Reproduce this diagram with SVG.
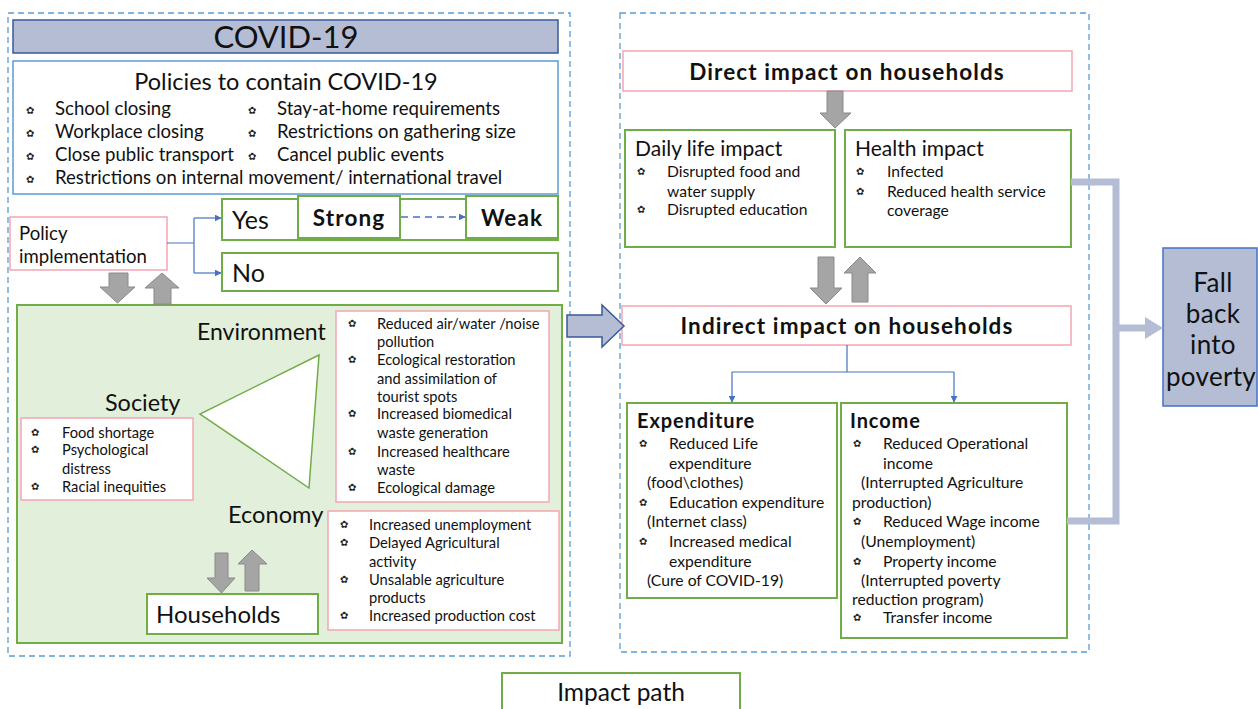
<svg xmlns="http://www.w3.org/2000/svg" width="1258" height="709" viewBox="0 0 1258 709">
<defs>
<style>
text{font-family:Lato,"Noto Sans",sans-serif;fill:#111;font-weight:400;}
.dash{fill:none;stroke:#5b9bd5;stroke-width:1.3;stroke-dasharray:6,4;}
.g{fill:#fff;stroke:#70ad47;stroke-width:2;}
.p{fill:#fff;stroke:#f4a7b3;stroke-width:1.5;}
.b{fill:#fff;stroke:#5b9bd5;stroke-width:1.5;}
.ga{fill:#a5a5a5;stroke:#8a8a8a;stroke-width:1;}
.bl{fill:none;stroke:#4472c4;stroke-width:1.2;}
text.bu{font-family:"DejaVu Sans",sans-serif;font-size:10px;font-weight:bold;fill:#222;letter-spacing:0;}
.t14{font-size:14.7px;}
.t15{font-size:15.7px;}
.t17{font-size:18.6px;}
text.h{font-size:22.5px;font-weight:bold;letter-spacing:1.1px;}
text.h2{font-size:20px;font-weight:bold;letter-spacing:0.9px;}
.big{font-size:23.4px;}
</style>
<marker id="ah" viewBox="0 0 10 10" refX="9" refY="5" markerWidth="7" markerHeight="7" orient="auto" markerUnits="userSpaceOnUse"><path d="M0,0 L10,5 L0,10 z" fill="#4472c4"/></marker>
</defs>
<rect width="1258" height="709" fill="#fff"/>

<g id="left-container"><rect class="dash" x="8" y="13" width="562" height="643"/></g>
<g id="right-container"><rect class="dash" x="620" y="13" width="469" height="639"/></g>

<g id="covid"><rect x="13" y="20" width="545" height="33" fill="#b4bdd4" stroke="#3a5a9a" stroke-width="1.5"/><text x="286" y="48" text-anchor="middle" font-size="31">COVID-19</text></g>

<g id="policies">
<rect class="b" x="13" y="61" width="545" height="133"/>
<text x="286" y="90" text-anchor="middle" font-size="23.5">Policies to contain COVID-19</text>
<g class="t17">
<text class="bu" x="26" y="114">✿</text><text x="55" y="115">School closing</text>
<text class="bu" x="26" y="137">✿</text><text x="55" y="138">Workplace closing</text>
<text class="bu" x="26" y="160">✿</text><text x="55" y="161">Close public transport</text>
<text class="bu" x="26" y="183">✿</text><text x="55" y="184">Restrictions on internal movement/ international travel</text>
<text class="bu" x="248" y="114">✿</text><text x="277" y="115">Stay-at-home requirements</text>
<text class="bu" x="248" y="137">✿</text><text x="277" y="138">Restrictions on gathering size</text>
<text class="bu" x="248" y="160">✿</text><text x="277" y="161">Cancel public events</text>
</g>
</g>

<g id="policy-impl"><rect class="p" x="10" y="217" width="157" height="53"/><text x="19" y="240" font-size="18.6">Policy</text><text x="19" y="263" font-size="18.6">implementation</text></g>
<g id="yes"><rect class="g" x="222" y="199" width="336" height="41"/><text x="232" y="229" font-size="25">Yes</text></g>
<g id="strong"><rect class="g" x="298" y="196" width="102" height="42"/><text x="349" y="226" text-anchor="middle" class="h">Strong</text></g>
<g id="weak"><rect class="g" x="466" y="196" width="92" height="42"/><text x="512" y="226" text-anchor="middle" class="h">Weak</text></g>
<g id="no"><rect class="g" x="222" y="253" width="336" height="38"/><text x="232" y="282" font-size="25">No</text></g>

<g id="effects-area"><rect x="17" y="305" width="545" height="338" fill="#e2efda" stroke="#70ad47" stroke-width="2"/></g>
<g id="triangle"><polygon points="319,355 200,414 309,488" fill="#fff" stroke="#70ad47" stroke-width="1.5"/></g>
<g id="environment">
<text x="197" y="340" font-size="23">Environment</text>
<rect class="p" x="336" y="311" width="213" height="191"/>
<g class="t14">
<text class="bu" x="348" y="327">✿</text><text x="377" y="329">Reduced air/water /noise</text>
<text x="377" y="347">pollution</text>
<text class="bu" x="348" y="363">✿</text><text x="377" y="365">Ecological restoration</text>
<text x="377" y="384">and assimilation of</text>
<text x="377" y="402">tourist spots</text>
<text class="bu" x="348" y="417">✿</text><text x="377" y="419">Increased biomedical</text>
<text x="377" y="438">waste generation</text>
<text class="bu" x="348" y="455">✿</text><text x="377" y="457">Increased healthcare</text>
<text x="377" y="475">waste</text>
<text class="bu" x="348" y="491">✿</text><text x="377" y="493">Ecological damage</text>
</g>
</g>
<g id="society">
<text class="big" x="105" y="411">Society</text>
<rect class="p" x="21" y="418" width="172" height="82"/>
<g class="t14">
<text class="bu" x="31" y="436">✿</text><text x="62" y="438">Food shortage</text>
<text class="bu" x="31" y="453">✿</text><text x="62" y="455">Psychological</text>
<text x="62" y="474">distress</text>
<text class="bu" x="31" y="490">✿</text><text x="62" y="492">Racial inequities</text>
</g>
</g>
<g id="economy">
<text x="228" y="523" font-size="23.6">Economy</text>
<rect class="p" x="328" y="511" width="231" height="119"/>
<g class="t14">
<text class="bu" x="340" y="528">✿</text><text x="369" y="530">Increased unemployment</text>
<text class="bu" x="340" y="546">✿</text><text x="369" y="548">Delayed Agricultural</text>
<text x="369" y="567">activity</text>
<text class="bu" x="340" y="583">✿</text><text x="369" y="585">Unsalable agriculture</text>
<text x="369" y="603">products</text>
<text class="bu" x="340" y="619">✿</text><text x="369" y="621">Increased production cost</text>
</g>
</g>
<g id="households"><rect class="g" x="147" y="594" width="171" height="40"/><text x="156" y="623" font-size="24">Households</text></g>

<g id="direct"><rect class="p" x="623" y="51" width="449" height="40"/><text x="847" y="80" text-anchor="middle" class="h">Direct impact on households</text></g>
<g id="daily">
<rect class="g" x="625" y="130" width="210" height="117"/>
<text x="635" y="156" font-size="21">Daily life impact</text>
<g class="t15">
<text class="bu" x="637" y="175">✿</text><text x="667" y="177">Disrupted food and</text>
<text x="667" y="197">water supply</text>
<text class="bu" x="637" y="213">✿</text><text x="667" y="215">Disrupted education</text>
</g>
</g>
<g id="health">
<rect class="g" x="845" y="130" width="226" height="117"/>
<text x="855" y="156" font-size="21">Health impact</text>
<g class="t15">
<text class="bu" x="856" y="175">✿</text><text x="887" y="177">Infected</text>
<text class="bu" x="856" y="195">✿</text><text x="887" y="197">Reduced health service</text>
<text x="887" y="216">coverage</text>
</g>
</g>
<g id="indirect"><rect class="p" x="622" y="306" width="449" height="39"/><text x="847" y="334" text-anchor="middle" class="h">Indirect impact on households</text></g>
<g id="expenditure">
<rect class="g" x="627" y="403" width="210" height="195"/>
<text x="637" y="428" class="h2">Expenditure</text>
<g class="t15">
<text class="bu" x="639" y="447">✿</text><text x="669" y="449">Reduced Life</text>
<text x="669" y="469">expenditure</text>
<text x="647" y="488">(food\clothes)</text>
<text class="bu" x="639" y="506">✿</text><text x="669" y="508">Education expenditure</text>
<text x="647" y="527">(Internet class)</text>
<text class="bu" x="639" y="545">✿</text><text x="669" y="547">Increased medical</text>
<text x="669" y="567">expenditure</text>
<text x="647" y="586">(Cure of COVID-19)</text>
</g>
</g>
<g id="income">
<rect class="g" x="841" y="403" width="226" height="235"/>
<text x="850" y="428" class="h2">Income</text>
<g class="t15">
<text class="bu" x="853" y="447">✿</text><text x="883" y="449">Reduced Operational</text>
<text x="883" y="469">income</text>
<text x="861" y="488">(Interrupted Agriculture</text>
<text x="852" y="508">production)</text>
<text class="bu" x="853" y="525">✿</text><text x="883" y="527">Reduced Wage income</text>
<text x="861" y="547">(Unemployment)</text>
<text class="bu" x="853" y="565">✿</text><text x="883" y="567">Property income</text>
<text x="861" y="586">(Interrupted poverty</text>
<text x="852" y="605">reduction program)</text>
<text class="bu" x="853" y="621">✿</text><text x="883" y="623">Transfer income</text>
</g>
</g>
<g id="fallback"><rect x="1163" y="248" width="94" height="158" fill="#b4bdd4" stroke="#4472c4" stroke-width="1.5"/>
<g font-size="26" text-anchor="middle" letter-spacing="0.3"><text x="1213" y="292">Fall</text><text x="1213" y="323">back</text><text x="1213" y="354">into</text><text x="1211" y="386">poverty</text></g></g>
<g id="legend"><rect class="g" x="502" y="673" width="238" height="40"/><text x="621" y="701" text-anchor="middle" font-size="24.5">Impact path</text></g>

<g id="connectors">
<path class="bl" d="M167,243 H194 M194,218 V273" />
<path class="bl" d="M194,218 H221" marker-end="url(#ah)"/>
<path class="bl" d="M194,273 H221" marker-end="url(#ah)"/>
<path d="M401,217 H465" fill="none" stroke="#4472c4" stroke-width="1.5" stroke-dasharray="7,5" marker-end="url(#ah)"/>
<path class="bl" d="M847,345 V372 M732,372 H954"/>
<path class="bl" d="M732,372 V402" marker-end="url(#ah)"/>
<path class="bl" d="M954,372 V402" marker-end="url(#ah)"/>
<polygon class="ga" points="109,273 128,273 128,287 135,287 117.5,303 100,287 109,287"/>
<polygon class="ga" points="154,304 171,304 171,288 179,288 162,273 145,288 154,288"/>
<polygon class="ga" points="215,553 228,553 228,578 235,578 221.5,593 207,578 215,578"/>
<polygon class="ga" points="245,591 259,591 259,564 267,564 252,550 238,564 245,564"/>
<polygon class="ga" points="827,91 843,91 843,113 851,113 835,128 820,113 827,113"/>
<polygon class="ga" points="818,257 834,257 834,288 842,288 826,304 810,288 818,288"/>
<polygon class="ga" points="852,302 868,302 868,273 876,273 860,257 844,273 852,273"/>
<polygon points="567,315 602,315 602,305 624,326 602,347 602,337 567,337" fill="#b4bdd4" stroke="#3a5a9a" stroke-width="1.5"/>
<path d="M1071,182 H1116 V521 H1067 M1116,328 H1146" fill="none" stroke="#b4bdd4" stroke-width="7"/>
<polygon points="1145,317 1163,328 1145,339" fill="#b4bdd4"/>
</g>
</svg>
